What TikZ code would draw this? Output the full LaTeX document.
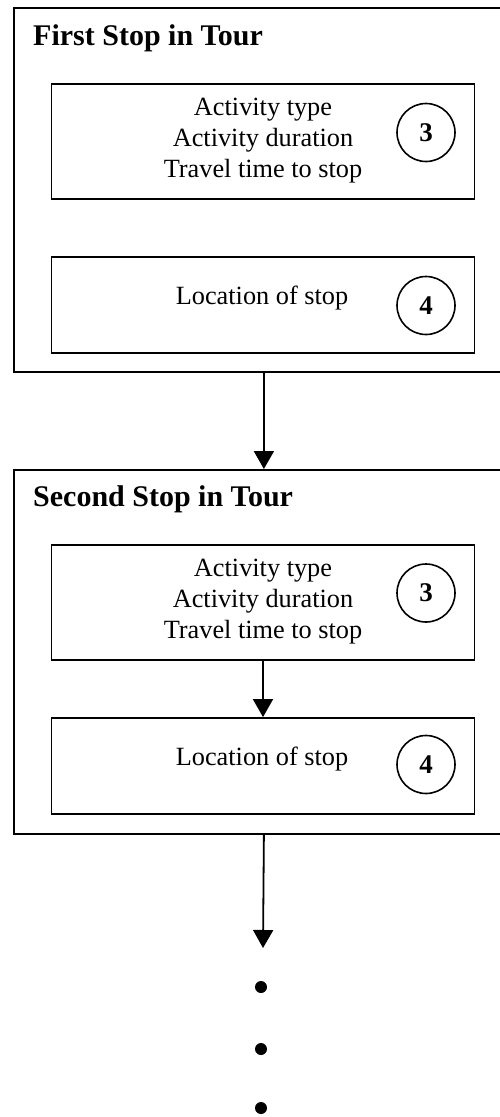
\documentclass[tikz,border=0pt]{standalone}
\usepackage{fontspec}
\setmainfont{Liberation Serif}
\usetikzlibrary{arrows.meta,positioning}
\tikzset{stopframe/.style={rectangle,draw=black,line width=1.8,minimum width=500pt,minimum height=364pt,anchor=north west,inner sep=0pt}}
\tikzset{infobox/.style={rectangle,draw=black,line width=1.8,minimum width=423pt,inner sep=0pt}}
\tikzset{stoptitle/.style={anchor=base west,inner sep=0pt,font=\fontsize{30}{34}\selectfont\bfseries}}
\tikzset{infotext/.style={align=center,inner sep=0pt,font=\fontsize{26.3}{31}\selectfont}}
\tikzset{stepnum/.style={circle,draw=black,line width=1.6,minimum size=58pt,inner sep=0pt,font=\fontsize{27}{30}\selectfont\bfseries}}
\tikzset{flow/.style={-{Triangle[width=20pt,length=18pt]},line width=1.8}}
\tikzset{moredot/.style={circle,fill=black,minimum size=12pt,inner sep=0pt}}
\begin{document}
\begin{tikzpicture}[x=1pt,y=-1pt]
	\useasboundingbox (0,0) rectangle (500,1117);
	\clip (0,0) rectangle (500,1117);
	% first stop
	\node [style=stopframe] (frameA) at (13,7) {};
	\node [style=stoptitle] (titleA) at (33,45) {First Stop in Tour};
	\node [style=infobox, minimum height=115pt] (boxA1) at (263,141.5) {};
	\node [style=infotext] (textA1) at (263,141) {Activity type\\Activity duration\\Travel time to stop};
	\node [style=stepnum] (numA1) at (426,132.5) {3};
	\node [style=infobox, minimum height=96pt] (boxA2) at (263,305) {};
	\node [style=infotext] (textA2) at (262,298) {Location of stop};
	\node [style=stepnum] (numA2) at (426,305.5) {4};
	% second stop
	\node [style=stopframe] (frameB) at (13,469) {};
	\node [style=stoptitle] (titleB) at (33,506) {Second Stop in Tour};
	\node [style=infobox, minimum height=115pt] (boxB1) at (263,602.5) {};
	\node [style=infotext] (textB1) at (263,602) {Activity type\\Activity duration\\Travel time to stop};
	\node [style=stepnum] (numB1) at (426,593) {3};
	\node [style=infobox, minimum height=96pt] (boxB2) at (263,766) {};
	\node [style=infotext] (textB2) at (262,759) {Location of stop};
	\node [style=stepnum] (numB2) at (426,764.5) {4};
	% continuation
	\coordinate (tailend) at (263,948);
	\node [style=moredot] (dot1) at (261,987) {};
	\node [style=moredot] (dot2) at (261,1049) {};
	\node [style=moredot] (dot3) at (261,1108) {};
	\draw [style=flow] (frameA.south) to (frameB.north);
	\draw [style=flow] (boxB1.south) to (boxB2.north);
	\draw [style=flow] (frameB.south) to (tailend);
\end{tikzpicture}
\end{document}
